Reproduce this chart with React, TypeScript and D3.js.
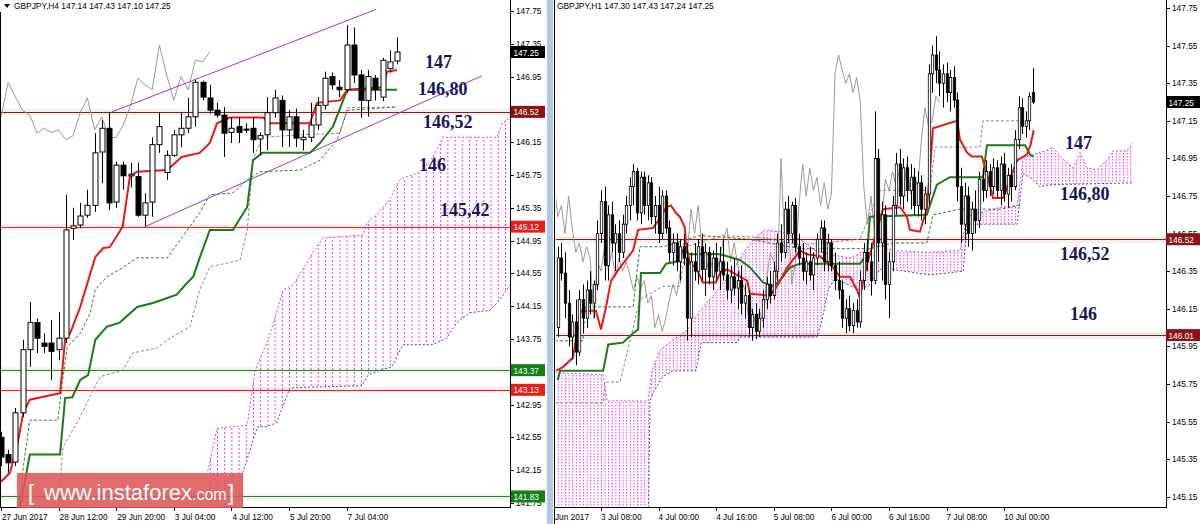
import React from 'react';
import * as d3 from 'd3';

// ---------------- LEFT PANEL (GBPJPY H4) ----------------
// [open, high, low, close]
const L_CANDLES: number[][] = [
  [142.55, 142.62, 142.20, 142.31], [142.34, 142.40, 142.12, 142.24], [142.25, 142.91, 142.20, 142.85],
  [142.85, 143.74, 142.80, 143.62], [143.62, 144.20, 143.41, 143.95], [143.95, 144.00, 143.58, 143.76],
  [143.70, 143.82, 143.58, 143.66], [143.70, 143.98, 143.25, 143.60], [143.62, 144.08, 143.49, 143.76],
  [143.76, 145.51, 143.70, 145.08], [145.10, 145.35, 144.96, 145.13], [145.14, 145.41, 145.10, 145.25],
  [145.26, 145.57, 145.23, 145.38], [145.38, 146.26, 145.30, 146.02], [146.03, 146.42, 145.65, 146.32],
  [146.32, 146.52, 145.32, 145.41], [145.42, 145.91, 145.35, 145.87], [145.87, 145.91, 145.57, 145.74],
  [145.74, 145.90, 145.60, 145.76], [145.73, 145.90, 145.24, 145.26], [145.26, 145.53, 145.12, 145.41],
  [145.42, 146.21, 145.24, 146.12], [146.12, 146.51, 146.02, 146.34], [145.78, 146.05, 145.69, 145.99],
  [145.99, 146.30, 145.97, 146.24], [146.24, 146.52, 146.09, 146.32], [146.32, 146.69, 146.26, 146.46],
  [146.46, 146.91, 146.34, 146.88], [146.88, 146.90, 146.66, 146.70], [146.69, 146.85, 146.50, 146.54],
  [146.54, 146.63, 146.45, 146.48], [146.48, 146.58, 145.97, 146.26], [146.27, 146.45, 146.14, 146.32],
  [146.34, 146.45, 146.14, 146.27], [146.31, 146.38, 146.26, 146.30], [146.32, 146.45, 146.02, 146.18],
  [146.19, 146.27, 145.99, 146.23], [146.24, 146.70, 146.05, 146.51], [146.51, 146.79, 146.45, 146.69],
  [146.66, 146.72, 146.09, 146.30], [146.30, 146.54, 146.09, 146.46], [146.46, 146.56, 146.09, 146.20],
  [146.18, 146.30, 146.05, 146.21], [146.21, 146.63, 146.15, 146.36], [146.36, 146.70, 146.30, 146.60],
  [146.60, 147.01, 146.55, 146.93], [146.95, 147.00, 146.79, 146.85], [146.82, 146.91, 146.70, 146.79],
  [146.79, 147.58, 146.75, 147.335], [147.335, 147.55, 146.87, 146.97], [146.97, 147.03, 146.45, 146.66],
  [146.66, 147.03, 146.46, 146.95], [146.93, 146.97, 146.66, 146.79], [146.70, 147.18, 146.65, 147.15],
  [147.05, 147.27, 147.00, 147.13], [147.14, 147.43, 147.10, 147.25],
];
// [bar index, price]
const L_TENKAN: number[][] = [
  [0, 142.01], [1.25, 142.12], [2.2, 142.43], [3.1, 142.85], [4.0, 143.01], [8.2, 143.09], [8.9, 143.74],
  [9.6, 143.82], [11.0, 144.14], [13.1, 144.75], [14.2, 144.86], [15.1, 144.87], [16.9, 145.12],
  [17.9, 145.73], [18.9, 145.79], [23.1, 145.81], [25.1, 145.97], [27.6, 146.02], [29.0, 146.14],
  [30.0, 146.38], [31.8, 146.45], [36.4, 146.45], [37.4, 146.38], [42.9, 146.38], [43.9, 146.63],
  [47.1, 146.66], [48.1, 146.79], [53.1, 146.82], [53.6, 147.01], [55, 147.03],
];
const L_KIJUN: number[][] = [
  [1.8, 141.30], [4.0, 142.34], [8.2, 142.34], [8.9, 143.03], [9.9, 143.04], [11.0, 143.25], [12.1, 143.31],
  [13.1, 143.74], [14.7, 143.90], [16.5, 143.95], [18.9, 144.14], [21.1, 144.19], [23.1, 144.25],
  [24.4, 144.29], [25.8, 144.43], [26.7, 144.51], [27.6, 144.74], [29.0, 145.08], [32.2, 145.08],
  [34.2, 145.36], [35.0, 145.93], [36.3, 146.02], [42.9, 146.02], [44.3, 146.14], [46.1, 146.34],
  [48.1, 146.79], [55, 146.79],
];
const L_DASH_GREEN: number[][] = [
  [2.4, 141.66], [3.1, 142.19], [4.0, 142.76], [7.9, 142.76], [8.5, 143.21], [9.2, 143.65], [11.0, 143.82],
  [12.4, 144.07], [13.1, 144.35], [14.7, 144.51], [16.9, 144.62], [18.9, 144.74], [23.1, 144.74],
  [24.9, 144.96], [27.6, 145.29], [29.0, 145.51], [32.2, 145.53], [34.2, 145.69], [36.0, 145.79],
  [41.5, 145.81], [44.3, 145.93], [46.7, 146.18], [48.1, 146.54], [55, 146.58],
];
const L_DASH_GRAY: number[][] = [
  [7.9, 141.66], [8.6, 142.43], [11.0, 142.80], [12.6, 143.09], [13.75, 143.29], [16.9, 143.37],
  [18.3, 143.58], [21.7, 143.64], [23.1, 143.74], [26.25, 143.90], [27.6, 144.35], [29.0, 144.63],
  [33.2, 144.71], [34.2, 145.08], [35.0, 145.93], [36.25, 146.21], [41.5, 146.24], [47.1, 146.26],
  [48.1, 146.57], [55, 146.58],
];
const L_SPAN_A: number[][] = [
  [28.6, 142.09], [30.0, 142.66], [34.2, 142.70], [35.3, 143.37], [37.1, 143.74], [39.2, 144.35],
  [40.6, 144.41], [43.3, 144.80], [44.7, 144.98], [50.3, 145.02], [50.8, 145.16], [52.4, 145.29],
  [54.0, 145.45], [55.4, 145.69], [56.4, 145.73], [58.2, 145.78], [60.0, 145.97], [61.4, 146.21],
  [68.9, 146.21], [69.6, 146.38], [70.7, 146.45],
];
const L_SPAN_B: number[][] = [
  [28.6, 141.30], [33.2, 141.30], [33.6, 142.12], [35.6, 142.68], [36.9, 142.68], [38.3, 142.73],
  [40.1, 143.15], [41.5, 143.16], [50.1, 143.18], [51.0, 143.31], [52.6, 143.37], [54.3, 143.41],
  [55.8, 143.68], [59.9, 143.68], [61.9, 143.76], [63.3, 143.95], [65.1, 144.07], [67.9, 144.10],
  [69.3, 144.23], [70.7, 144.41],
];
const L_CHANNEL_UP: number[][] = [[15.4, 146.52], [52.1, 147.77]];
const L_CHANNEL_DN: number[][] = [[20.0, 145.12], [66.8, 146.96]];
const L_LEVELS = [146.52, 145.12, 143.37, 143.13, 141.83];
const L_YTICKS = [147.75, 147.35, 146.95, 146.15, 145.75, 145.35, 144.95, 144.55, 144.15, 143.75, 142.95, 142.55, 142.15, 141.75];
const L_XTICK_IDX = [0, 8, 16, 24, 32, 40, 48];
const L_XTICK_LABELS = ['27 Jun 2017', '28 Jun 12:00', '29 Jun 20:00', '3 Jul 04:00', '4 Jul 12:00', '5 Jul 20:00', '7 Jul 04:00'];
const L_NOTES = ['147', '146,80', '146,52', '146', '145,42'];
const L_NOTE_PRICES = [147.05, 146.72, 146.32, 145.80, 145.25];

// ---------------- RIGHT PANEL (GBPJPY H1) ----------------
const R_CANDLES: number[][] = [
  [146.45, 146.52, 145.85, 146.05], [146.05, 146.48, 146.00, 146.42], [146.42, 146.50, 146.30, 146.34],
  [146.34, 146.45, 146.10, 146.18], [146.18, 146.25, 145.95, 146.00], [146.00, 146.12, 145.88, 146.08],
  [146.08, 146.20, 145.85, 145.92], [145.92, 146.25, 145.90, 146.20], [146.20, 146.28, 146.02, 146.10],
  [146.10, 146.30, 146.05, 146.25], [146.25, 146.35, 146.12, 146.18], [146.18, 146.30, 146.10, 146.28],
  [146.28, 146.62, 146.25, 146.55], [146.55, 146.78, 146.50, 146.72], [146.72, 146.80, 146.30, 146.38],
  [146.38, 146.70, 146.30, 146.65], [146.65, 146.72, 146.45, 146.50], [146.50, 146.60, 146.35, 146.55],
  [146.55, 146.62, 146.40, 146.45], [146.45, 146.65, 146.42, 146.60], [146.60, 146.75, 146.55, 146.70],
  [146.70, 146.85, 146.62, 146.80], [146.80, 146.92, 146.70, 146.88], [146.88, 146.90, 146.62, 146.66],
  [146.66, 146.88, 146.60, 146.85], [146.85, 146.88, 146.65, 146.70], [146.70, 146.86, 146.62, 146.82],
  [146.82, 146.85, 146.60, 146.64], [146.64, 146.75, 146.55, 146.70], [146.70, 146.80, 146.50, 146.55],
  [146.55, 146.78, 146.52, 146.75], [146.75, 146.78, 146.55, 146.58], [146.58, 146.62, 146.40, 146.45],
  [146.45, 146.55, 146.38, 146.50], [146.50, 146.55, 146.35, 146.40], [146.40, 146.52, 146.30, 146.48],
  [146.48, 146.55, 146.38, 146.42], [146.42, 146.50, 145.98, 146.10], [146.10, 146.45, 146.00, 146.40],
  [146.40, 146.50, 146.30, 146.35], [146.35, 146.52, 146.28, 146.48], [146.48, 146.55, 146.30, 146.36],
  [146.36, 146.50, 146.22, 146.45], [146.45, 146.48, 146.28, 146.32], [146.32, 146.46, 146.25, 146.42],
  [146.42, 146.50, 146.30, 146.35], [146.35, 146.48, 146.25, 146.40], [146.40, 146.52, 146.30, 146.33],
  [146.33, 146.40, 146.20, 146.25], [146.25, 146.38, 146.18, 146.32], [146.32, 146.42, 146.22, 146.26],
  [146.26, 146.35, 146.15, 146.30], [146.30, 146.38, 146.12, 146.18], [146.18, 146.28, 146.10, 146.22],
  [146.22, 146.25, 146.00, 146.05], [146.05, 146.15, 145.98, 146.12], [146.12, 146.18, 145.99, 146.03],
  [146.03, 146.15, 146.00, 146.10], [146.10, 146.25, 146.05, 146.20], [146.20, 146.32, 146.15, 146.28],
  [146.28, 146.35, 146.18, 146.22], [146.22, 146.40, 146.20, 146.35], [146.35, 146.55, 146.30, 146.50],
  [146.50, 146.60, 146.40, 146.45], [146.45, 146.72, 146.42, 146.68], [146.68, 146.75, 146.50, 146.55],
  [146.55, 146.72, 146.50, 146.70], [146.70, 146.74, 146.45, 146.48], [146.48, 146.55, 146.38, 146.42],
  [146.42, 146.50, 146.30, 146.35], [146.35, 146.45, 146.28, 146.40], [146.40, 146.48, 146.30, 146.33],
  [146.33, 146.45, 146.25, 146.42], [146.42, 146.55, 146.38, 146.52], [146.52, 146.62, 146.45, 146.58],
  [146.58, 146.62, 146.35, 146.40], [146.40, 146.55, 146.35, 146.50], [146.50, 146.52, 146.35, 146.38],
  [146.38, 146.45, 146.25, 146.30], [146.30, 146.40, 146.20, 146.25], [146.25, 146.30, 146.05, 146.10],
  [146.10, 146.20, 146.02, 146.15], [146.15, 146.22, 146.03, 146.06], [146.06, 146.18, 146.02, 146.14],
  [146.14, 146.20, 146.05, 146.08], [146.08, 146.35, 146.05, 146.30], [146.30, 146.50, 146.25, 146.45],
  [146.45, 146.52, 146.35, 146.40], [146.40, 146.50, 146.22, 146.30], [146.30, 147.20, 146.28, 146.95],
  [146.95, 147.00, 146.40, 146.50], [146.50, 146.72, 146.30, 146.65], [146.65, 146.70, 146.20, 146.28],
  [146.28, 146.45, 146.10, 146.40], [146.40, 146.75, 146.35, 146.70], [146.70, 146.98, 146.65, 146.92],
  [146.92, 147.00, 146.70, 146.75], [146.75, 146.95, 146.68, 146.90], [146.90, 146.96, 146.72, 146.78],
  [146.78, 146.92, 146.68, 146.85], [146.85, 146.90, 146.65, 146.70], [146.70, 146.88, 146.64, 146.82],
  [146.82, 146.86, 146.62, 146.68], [146.68, 146.80, 146.60, 146.76], [146.76, 147.45, 146.70, 147.40],
  [147.40, 147.55, 147.30, 147.50], [147.50, 147.60, 147.35, 147.42], [147.42, 147.52, 147.28, 147.35],
  [147.35, 147.45, 147.22, 147.40], [147.40, 147.46, 147.25, 147.30], [147.30, 147.42, 147.20, 147.38],
  [147.38, 147.44, 147.22, 147.26], [147.26, 147.30, 146.72, 146.80], [146.80, 146.90, 146.50, 146.60],
  [146.60, 146.82, 146.52, 146.75], [146.75, 146.80, 146.48, 146.55], [146.55, 146.72, 146.46, 146.68],
  [146.68, 146.78, 146.55, 146.62], [146.62, 146.88, 146.58, 146.84], [146.84, 146.90, 146.72, 146.78],
  [146.78, 146.94, 146.74, 146.88], [146.88, 146.92, 146.75, 146.80], [146.80, 146.95, 146.76, 146.90],
  [146.90, 146.94, 146.74, 146.78], [146.78, 146.96, 146.70, 146.92], [146.92, 146.98, 146.72, 146.76],
  [146.76, 146.90, 146.69, 146.86], [146.86, 146.92, 146.72, 146.80], [146.80, 147.10, 146.78, 147.05],
  [147.05, 147.28, 147.00, 147.22], [147.22, 147.27, 147.08, 147.12], [147.12, 147.20, 147.06, 147.15],
  [147.15, 147.30, 147.10, 147.28], [147.30, 147.43, 147.24, 147.25],
];
const R_TENKAN: number[][] = [
  [0.5, 145.82], [2.4, 145.84], [5.2, 145.89], [6.6, 146.05], [7.4, 146.14], [11.6, 146.14], [13.0, 146.04],
  [14.4, 146.16], [15.8, 146.30], [18.3, 146.37], [21.9, 146.46], [23.3, 146.57], [27.4, 146.58],
  [29.4, 146.63], [31.1, 146.69], [32.4, 146.70], [33.8, 146.66], [34.9, 146.64], [36.3, 146.58],
  [36.6, 146.50], [37.7, 146.39], [39.4, 146.37], [41.3, 146.29], [44.9, 146.29], [46.1, 146.34],
  [48.0, 146.36], [53.6, 146.30], [54.4, 146.23], [59.9, 146.22], [61.9, 146.27], [64.7, 146.37],
  [68.3, 146.46], [70.2, 146.44], [73.8, 146.43], [77.4, 146.37], [79.4, 146.32], [82.2, 146.32],
  [84.1, 146.25], [84.9, 146.21], [86.9, 146.39], [88.6, 146.50], [91.3, 146.68], [96.1, 146.69],
  [98.0, 146.64], [98.8, 146.57], [101.6, 146.56], [103.5, 146.68], [104.4, 146.89], [105.2, 147.11],
  [111.9, 147.15], [112.7, 147.05], [114.7, 146.98], [116.1, 146.96], [118.8, 146.96], [120.2, 146.87],
  [121.1, 146.80], [121.9, 146.74], [124.7, 146.74], [126.6, 146.84], [128.6, 146.94], [131.3, 146.97],
  [132.3, 147.02], [133.2, 147.10],
];
const R_KIJUN: number[][] = [
  [1.0, 145.77], [1.6, 145.82], [13.6, 145.82], [15.0, 145.96], [19.1, 145.97], [21.9, 146.02],
  [23.3, 146.04], [24.1, 146.34], [29.4, 146.34], [31.1, 146.39], [33.8, 146.40], [35.8, 146.46],
  [37.7, 146.44], [46.1, 146.44], [51.6, 146.41], [54.4, 146.37], [58.0, 146.29], [60.8, 146.27],
  [62.7, 146.30], [65.5, 146.37], [68.3, 146.39], [84.9, 146.39], [86.9, 146.44], [87.7, 146.64],
  [103.5, 146.65], [104.9, 146.73], [106.3, 146.81], [109.9, 146.85], [119.1, 146.85], [120.2, 147.02],
  [130.8, 147.02], [132.2, 146.97], [133.2, 146.96],
];
const R_DASH_GRAY: number[][] = [
  [0.2, 145.65], [13.6, 145.65], [14.1, 145.76], [18.3, 145.76], [23.8, 146.20], [30.2, 146.27],
  [34.9, 146.27], [36.6, 146.48], [46.9, 146.54], [57.2, 146.53], [68.3, 146.49], [84.9, 146.52],
  [90.5, 146.78], [104.4, 146.78], [105.8, 147.01], [118.3, 147.01], [119.1, 147.15], [129.4, 147.15],
];
const R_DASH_GREEN: number[][] = [
  [0.2, 145.98], [8.0, 145.98], [8.6, 146.16], [21.9, 146.16], [23.8, 146.48], [30.2, 146.48],
  [40.5, 146.54], [54.4, 146.52], [68.3, 146.47], [87.7, 146.47], [94.1, 146.50], [103.5, 146.50],
  [105.2, 146.65], [112.7, 146.68], [123.8, 146.68], [129.4, 146.70],
];
const R_SPAN_A: number[][] = [
  [0.2, 145.81], [13.6, 145.80], [14.7, 145.66], [26.1, 145.66], [27.2, 145.82], [29.4, 145.93],
  [32.7, 145.98], [37.2, 146.04], [40.5, 146.14], [44.1, 146.22], [48.8, 146.33], [53.0, 146.46],
  [55.8, 146.53], [58.6, 146.57], [62.7, 146.56], [68.3, 146.52], [72.4, 146.46], [76.6, 146.44],
  [82.2, 146.42], [86.3, 146.46], [90.5, 146.49], [94.1, 146.46], [104.4, 146.45], [112.7, 146.46],
  [114.7, 146.64], [123.8, 146.69], [128.6, 146.70], [130.2, 146.94], [131.3, 146.96], [136.3, 146.99],
  [138.5, 147.01], [140.5, 146.96], [144.1, 146.90], [146.1, 146.98], [148.0, 146.90], [150.8, 146.89],
  [153.6, 146.94], [155.2, 146.99], [159.1, 146.99], [160.8, 147.03],
];
const R_SPAN_B: number[][] = [
  [0.2, 144.97], [26.1, 144.97], [26.6, 145.66], [27.4, 145.70], [30.2, 145.79], [33.0, 145.82],
  [39.4, 145.82], [40.8, 145.97], [50.8, 145.97], [51.6, 146.00], [73.0, 146.00], [74.4, 146.09],
  [76.1, 146.25], [78.0, 146.31], [84.9, 146.25], [87.7, 146.28], [90.5, 146.36], [94.1, 146.36],
  [104.4, 146.33], [113.6, 146.35], [114.7, 146.60], [128.6, 146.60], [130.2, 146.87], [132.9, 146.84],
  [134.8, 146.80], [137.6, 146.81], [160.8, 146.82],
];
const R_LEVELS = [146.52, 146.01];
const R_YTICKS = [147.75, 147.55, 147.35, 147.15, 146.95, 146.75, 146.55, 146.35, 146.15, 145.95, 145.75, 145.55, 145.35, 145.15];
const R_XTICK_IDX = [-3, 13, 29, 45, 61, 77, 93, 109, 125];
const R_XTICK_LABELS = ['30 Jun 2017', '3 Jul 08:00', '4 Jul 00:00', '4 Jul 16:00', '5 Jul 08:00', '6 Jul 00:00', '6 Jul 16:00', '7 Jul 08:00', '10 Jul 00:00'];
const R_NOTES = ['147', '146,80', '146,52', '146'];
const R_NOTE_PRICES = [147.0, 146.73, 146.41, 146.09];

const CHIKOU_SHIFT = 26;

const AX_FONT = 'Liberation Sans, Arial, sans-serif';
const NOTE_FONT = 'Liberation Serif, Times New Roman, serif';
const LEVEL_COL_L = ['#8b1a1a', '#f02828', '#238a23', '#e82020', '#238a23'];
const LABEL_COL_L = ['#8b1414', '#e81e1e', '#138013', '#e81e1e', '#138013'];
const LEVEL_COL_R = ['#8b1a1a', '#8b1a1a'];

export default function App() {
  const xL = d3.scaleLinear().domain([0, 55]).range([1, 397]);
  const yL = d3.scaleLinear().domain([141.75, 147.75]).range([503, 11]);
  const xR = d3.scaleLinear().domain([0, 133]).range([554.2, 1033]);
  const yR = d3.scaleLinear().domain([145.15, 147.75]).range([496.8, 8]);

  const lineL = d3.line<number[]>().x(d => xL(d[0])).y(d => yL(d[1]));
  const lineR = d3.line<number[]>().x(d => xR(d[0])).y(d => yR(d[1]));

  const chikouL = L_CANDLES.slice(CHIKOU_SHIFT).map((c, k) => [k, c[3]]);
  const chikouR = R_CANDLES.slice(CHIKOU_SHIFT).map((c, k) => [k, c[3]]);

  const cloudL = lineL([...L_SPAN_A, ...[...L_SPAN_B].reverse()]) + 'Z';
  const cloudR = lineR([...R_SPAN_A, ...[...R_SPAN_B].reverse()]) + 'Z';

  const candles = (data: number[][], xs: any, ys: any, bw: number, sw: number, pre: string) =>
    data.map((c, i) => {
      const [o, h, l, cl] = c;
      const x = Math.round(xs(i)) + 0.5;
      const up = cl >= o;
      const yt = ys(Math.max(o, cl));
      const yb = ys(Math.min(o, cl));
      return (
        <g key={pre + i}>
          <line x1={x} x2={x} y1={ys(h)} y2={ys(l)} stroke="#000" strokeWidth={1} />
          <rect x={x - bw / 2} y={yt} width={bw} height={Math.max(1, yb - yt)}
            fill={up ? '#fff' : '#000'} stroke="#000" strokeWidth={sw} />
        </g>
      );
    });

  const priceBox = (p: number, y: number, x: number, col: string, key: string) => (
    <g key={key}>
      <rect x={x} y={y - 6} width={34} height={12} fill={col} />
      <text x={x + 2.5} y={y + 3.5} fontSize={8.3} fill="#fff" fontFamily={AX_FONT}>{p.toFixed(2)}</text>
    </g>
  );

  return (
    <svg width={1200} height={524} style={{ position: 'absolute', left: 0, top: 0, background: '#fff' }}
      xmlns="http://www.w3.org/2000/svg">
      <defs>
        <clipPath id="clipL"><rect x={1} y={0} width={509} height={507} /></clipPath>
        <clipPath id="clipR"><rect x={556} y={0} width={610} height={507} /></clipPath>
        <clipPath id="clipRX"><rect x={555} y={507} width={645} height={17} /></clipPath>
        <pattern id="hatchL" patternUnits="userSpaceOnUse" width={7.2} height={4} x={xL(0)} y={0}>
          <rect x={0} y={0} width={1} height={2} fill="#ee33ee" />
        </pattern>
        <pattern id="hatchR" patternUnits="userSpaceOnUse" width={3.6} height={3} x={xR(0)} y={0}>
          <rect x={0} y={0} width={1} height={1.5} fill="#ee33ee" />
        </pattern>
      </defs>
      <rect x={0} y={0} width={1200} height={524} fill="#fff" />

      {/* ============ LEFT PANEL ============ */}
      <g clipPath="url(#clipL)">
        <path d={cloudL} fill="url(#hatchL)" stroke="none" />
        <path d={lineL(L_SPAN_A) || ''} fill="none" stroke="#e040e0" strokeWidth={1} strokeDasharray="2,2" />
        <path d={lineL(L_SPAN_B) || ''} fill="none" stroke="#4848b0" strokeWidth={1} strokeDasharray="2,2" />
        {L_LEVELS.map((p, k) => (
          <g key={'ll' + k}>
            <rect x={0} y={yL(p) - 3} width={510} height={6} fill={LEVEL_COL_L[k]} opacity={0.08} />
            <line x1={0} x2={510} y1={Math.round(yL(p)) + 0.5} y2={Math.round(yL(p)) + 0.5} stroke={LEVEL_COL_L[k]} strokeWidth={1} />
          </g>
        ))}
        <path d={lineL(chikouL) || ''} fill="none" stroke="#9a9a9a" strokeWidth={1} />
        <path d={lineL(L_DASH_GRAY) || ''} fill="none" stroke="#8a8a8a" strokeWidth={1} strokeDasharray="3,2" />
        <path d={lineL(L_DASH_GREEN) || ''} fill="none" stroke="#3a7a3a" strokeWidth={1} strokeDasharray="3,2" />
        <path d={lineL(L_CHANNEL_UP) || ''} fill="none" stroke="#9b3bd6" strokeWidth={1} />
        <path d={lineL(L_CHANNEL_DN) || ''} fill="none" stroke="#9b3bd6" strokeWidth={1} />
        <path d={lineL(L_KIJUN) || ''} fill="none" stroke="#1c7a1c" strokeWidth={2} />
        <path d={lineL(L_TENKAN) || ''} fill="none" stroke="#e81818" strokeWidth={2} />
        {candles(L_CANDLES, xL, yL, 5, 1, 'lc')}
      </g>
      {L_NOTES.map((t, k) => (
        <text key={'ln' + k} x={[425, 418, 423, 419, 440][k]} y={yL(L_NOTE_PRICES[k])}
          fontFamily={NOTE_FONT} fontWeight="bold" fontSize={18} fill="#16165a">{t}</text>
      ))}
      {/* left frame */}
      <line x1={0.5} x2={0.5} y1={12} y2={507} stroke="#000" />
      <line x1={0} x2={510.5} y1={507.5} y2={507.5} stroke="#000" />
      <line x1={510.5} x2={510.5} y1={0} y2={508} stroke="#000" />
      {L_YTICKS.map((p, k) => (
        <g key={'lyt' + k}>
          <line x1={510} x2={514} y1={Math.round(yL(p)) + 0.5} y2={Math.round(yL(p)) + 0.5} stroke="#000" />
          <text x={516} y={yL(p) + 3} fontSize={8.3} fontFamily={AX_FONT} fill="#000">{p.toFixed(2)}</text>
        </g>
      ))}
      {L_XTICK_IDX.map((idx, k) => (
        <g key={'lxt' + k}>
          <line x1={Math.round(xL(idx)) + 0.5} x2={Math.round(xL(idx)) + 0.5} y1={507} y2={511} stroke="#000" />
          <text x={xL(idx) + 1} y={520} fontSize={8.3} fontFamily={AX_FONT} fill="#000">{L_XTICK_LABELS[k]}</text>
        </g>
      ))}
      {priceBox(147.25, yL(147.25), 511, '#000', 'lpb')}
      {L_LEVELS.map((p, k) => priceBox(p, yL(p), 511, LABEL_COL_L[k], 'lpl' + k))}
      <polygon points="4,4 10,4 7,8" fill="#000" />
      <text x={14} y={9} fontSize={8.4} fontFamily={AX_FONT} fill="#000">GBPJPY,H4  147.14 147.43 147.10 147.25</text>

      {/* watermark */}
      <rect x={17} y={473} width={226} height={35} fill="#de5656" opacity={0.88} />
      <text x={28} y={500} fontSize={22} fontFamily={AX_FONT} fill="#fff">[</text>
      <text x={44} y={500} fontFamily={AX_FONT} fill="#fff">
        <tspan fontSize={22}>www.instaforex</tspan><tspan fontSize={16}>.com</tspan>
      </text>
      <text x={228} y={500} fontSize={22} fontFamily={AX_FONT} fill="#fff">]</text>

      {/* separator */}
      <rect x={547} y={0} width={6} height={524} fill="#b3c7df" />

      {/* ============ RIGHT PANEL ============ */}
      <g clipPath="url(#clipR)">
        <path d={cloudR} fill="url(#hatchR)" stroke="none" />
        <path d={lineR(R_SPAN_A) || ''} fill="none" stroke="#e040e0" strokeWidth={1} strokeDasharray="2,2" />
        <path d={lineR(R_SPAN_B) || ''} fill="none" stroke="#4848b0" strokeWidth={1} strokeDasharray="2,2" />
        {R_LEVELS.map((p, k) => (
          <g key={'rl' + k}>
            <rect x={555} y={yR(p) - 3} width={612} height={7} fill={LEVEL_COL_R[k]} opacity={0.07} />
            <line x1={555} x2={1166} y1={Math.round(yR(p)) + 0.5} y2={Math.round(yR(p)) + 0.5} stroke={LEVEL_COL_R[k]} strokeWidth={1} />
          </g>
        ))}
        <path d={lineR(chikouR) || ''} fill="none" stroke="#9a9a9a" strokeWidth={1} />
        <path d={lineR(R_DASH_GRAY) || ''} fill="none" stroke="#8a8a8a" strokeWidth={1} strokeDasharray="3,2" />
        <path d={lineR(R_DASH_GREEN) || ''} fill="none" stroke="#3a7a3a" strokeWidth={1} strokeDasharray="3,2" />
        <path d={lineR(R_KIJUN) || ''} fill="none" stroke="#1c7a1c" strokeWidth={2} />
        <path d={lineR(R_TENKAN) || ''} fill="none" stroke="#e81818" strokeWidth={2} />
        {candles(R_CANDLES, xR, yR, 2.4, 0.8, 'rc')}
      </g>
      {R_NOTES.map((t, k) => (
        <text key={'rn' + k} x={[1065, 1060, 1060, 1070][k]} y={yR(R_NOTE_PRICES[k])}
          fontFamily={NOTE_FONT} fontWeight="bold" fontSize={18} fill="#16165a">{t}</text>
      ))}
      <line x1={554.5} x2={554.5} y1={0} y2={524} stroke="#000" />
      <line x1={555} x2={1166.5} y1={507.5} y2={507.5} stroke="#000" />
      <line x1={1166.5} x2={1166.5} y1={0} y2={508} stroke="#000" />
      {R_YTICKS.map((p, k) => (
        <g key={'ryt' + k}>
          <line x1={1166} x2={1170} y1={Math.round(yR(p)) + 0.5} y2={Math.round(yR(p)) + 0.5} stroke="#000" />
          <text x={1172} y={yR(p) + 3} fontSize={8.3} fontFamily={AX_FONT} fill="#000">{p.toFixed(2)}</text>
        </g>
      ))}
      <g clipPath="url(#clipRX)">
        {R_XTICK_IDX.map((idx, k) => (
          <g key={'rxt' + k}>
            <line x1={Math.round(xR(idx)) + 0.5} x2={Math.round(xR(idx)) + 0.5} y1={507} y2={511} stroke="#000" />
            <text x={xR(idx)} y={520} fontSize={8.3} fontFamily={AX_FONT} fill="#000">{R_XTICK_LABELS[k]}</text>
          </g>
        ))}
      </g>
      {priceBox(147.25, yR(147.25), 1166, '#000', 'rpb')}
      {R_LEVELS.map((p, k) => priceBox(p, yR(p), 1166, '#8b1414', 'rpl' + k))}
      <text x={557} y={9} fontSize={8.4} fontFamily={AX_FONT} fill="#000">GBPJPY,H1  147.30 147.43 147.24 147.25</text>
    </svg>
  );
}
